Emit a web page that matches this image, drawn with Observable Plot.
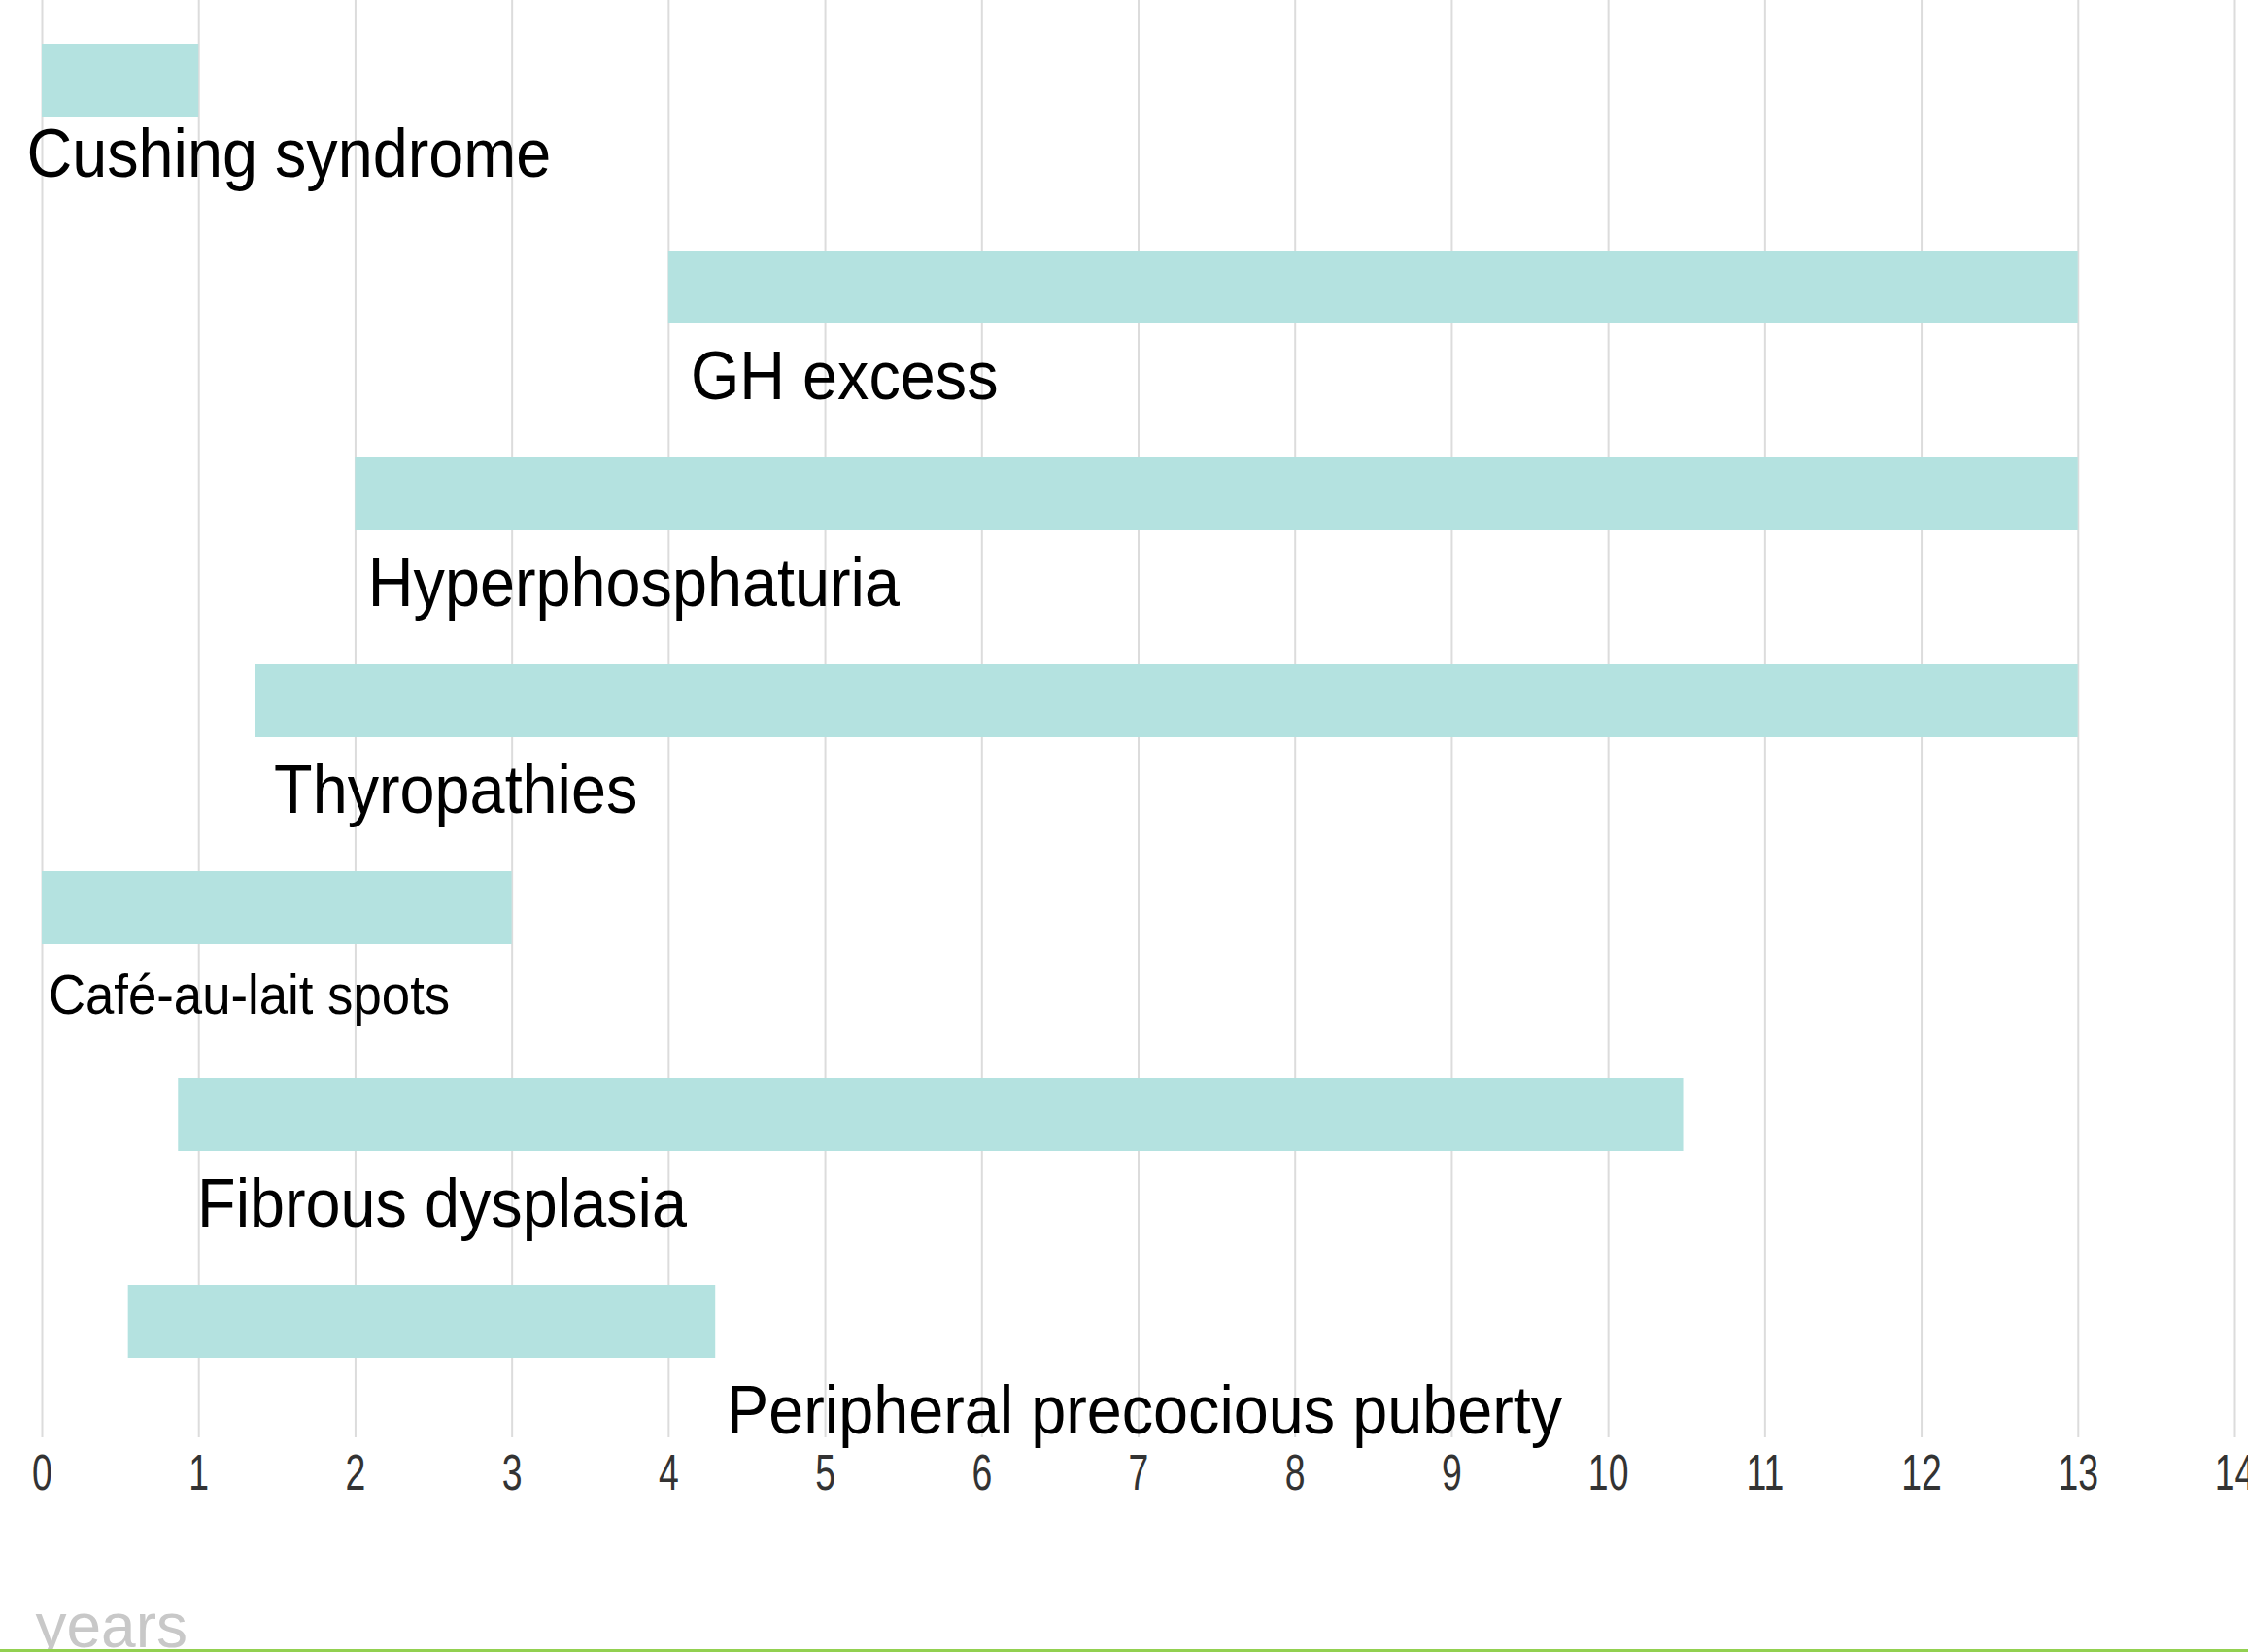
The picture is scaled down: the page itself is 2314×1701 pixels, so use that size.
<!DOCTYPE html>
<html>
<head>
<meta charset="utf-8">
<script src="https://cdn.jsdelivr.net/npm/d3@7"></script>
<script src="https://cdn.jsdelivr.net/npm/@observablehq/plot@0.6"></script>
<style>
  html, body { margin: 0; padding: 0; background: #fff; overflow: hidden; }
  #chart svg { display: block; overflow: hidden; }
  #rule { position: relative; height: 3px; width: 2314px; background: #92d050; }
</style>
</head>
<body>
<div id="chart"></div>
<div id="rule"></div>
<script>
// ---- data (years) ----
const names = [
  "Cushing syndrome",
  "GH excess",
  "Hyperphosphaturia",
  "Thyropathies",
  "Café-au-lait spots",
  "Fibrous dysplasia",
  "Peripheral precocious puberty"
];
const startYears = [0, 4, 2, 1.36, 0, 0.87, 0.55];
const endYears   = [1, 13, 13, 13, 3, 10.48, 4.3];
const labelYears = [-0.1, 4.14, 2.08, 1.48, 0.04, 0.99, 4.37];
const yearTicks  = [0, 1, 2, 3, 4, 5, 6, 7, 8, 9, 10, 11, 12, 13, 14];
const axisTitle  = "years";

const rows = names.map((name, i) => ({
  name, start: startYears[i], end: endYears[i], labelAt: labelYears[i], i
}));

const labelFont = "'Liberation Sans', Arial, Helvetica, sans-serif";

const chart = Plot.plot({
  width: 2314,
  height: 1698,
  marginTop: 0,
  marginBottom: 218,
  marginLeft: 43,
  marginRight: 14,
  style: { background: "#fff", fontFamily: labelFont },
  x: { domain: [0, 14], label: null },
  y: { domain: names, paddingInner: 0.648, paddingOuter: 0.293, align: 0.352, axis: null, label: null },
  marks: [
    Plot.gridX(yearTicks, { stroke: "#dcdcdc", strokeOpacity: 1, strokeWidth: 2 }),
    Plot.barX(rows, { x1: "start", x2: "end", y: "name", fill: "#b4e2e0" }),
    // labels under the bars
    Plot.text(rows, {
      filter: d => d.i === 0,
      x: "labelAt", y: "name", text: "name",
      textAnchor: "start", lineAnchor: "bottom", dy: 99,
      fontSize: 70, fill: "#000", fontFamily: labelFont
    }),
    Plot.text(rows, {
      filter: d => d.i === 4,
      x: "labelAt", y: "name", text: "name",
      textAnchor: "start", lineAnchor: "bottom", dy: 109,
      fontSize: 57, fill: "#000", fontFamily: labelFont
    }),
    Plot.text(rows, {
      filter: d => d.i !== 0 && d.i !== 4,
      x: "labelAt", y: "name", text: "name",
      textAnchor: "start", lineAnchor: "bottom", dy: 115,
      fontSize: 70, fill: "#000", fontFamily: labelFont
    }),
    Plot.axisX({
      ticks: yearTicks, tickFormat: d => String(d),
      tickSize: 0, tickPadding: 17,
      fontSize: 52, fill: "#333", fontFamily: labelFont,
      label: null
    }),
    Plot.text([axisTitle], {
      frameAnchor: "bottom-left", text: d => d,
      textAnchor: "start", lineAnchor: "bottom",
      dx: -7, dy: 215,
      fontSize: 64, fill: "#c8c8c8", fontFamily: labelFont
    })
  ]
});

document.getElementById("chart").appendChild(chart);

// the reference typography is slightly condensed: squeeze glyphs horizontally
function condense(nodes, factor) {
  nodes.forEach(t => {
    const len = t.getComputedTextLength();
    if (len > 0) {
      t.setAttribute("textLength", (len * factor).toFixed(1));
      t.setAttribute("lengthAdjust", "spacingAndGlyphs");
    }
  });
}
const labelSet = new Set(names);
condense(Array.from(chart.querySelectorAll("text")).filter(t => labelSet.has(t.textContent)), 0.925);
condense(Array.from(chart.querySelectorAll('g[aria-label="x-axis tick label"] text')), 0.72);
</script>
</body>
</html>
